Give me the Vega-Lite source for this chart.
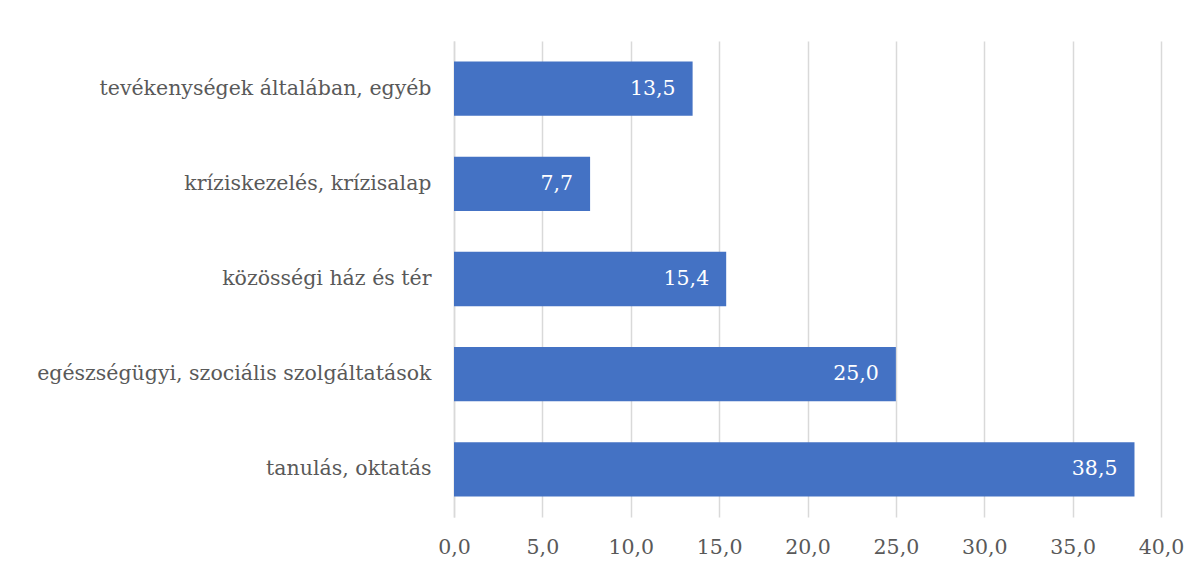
{
  "$schema": "https://vega.github.io/schema/vega-lite/v6.json",
  "width": 707,
  "height": 476,
  "autosize": {"type": "none"},
  "padding": {"left": 454, "top": 41, "right": 41, "bottom": 55},
  "background": "white",
  "config": {
    "view": {"stroke": null},
    "font": "DejaVu Serif",
    "locale": {"number": {"decimal": ",", "thousands": " ", "grouping": [3], "currency": ["", " Ft"]}}
  },
  "data": {
    "values": [
      {"category": "tevékenységek általában, egyéb", "value": 13.5},
      {"category": "kríziskezelés, krízisalap", "value": 7.7},
      {"category": "közösségi ház és tér", "value": 15.4},
      {"category": "egészségügyi, szociális szolgáltatások", "value": 25.0},
      {"category": "tanulás, oktatás", "value": 38.5}
    ]
  },
  "encoding": {
    "y": {
      "field": "category",
      "type": "nominal",
      "sort": null,
      "scale": {"paddingInner": 0.43, "paddingOuter": 0.215},
      "axis": {
        "title": null,
        "ticks": false,
        "domainColor": "#d9d9d9",
        "domainWidth": 1.5,
        "labelFont": "DejaVu Serif",
        "labelFontSize": 20.5,
        "labelColor": "#595959",
        "labelPadding": 23,
        "labelLimit": 460
      }
    },
    "x": {
      "field": "value",
      "type": "quantitative",
      "scale": {"domain": [0, 40], "nice": false},
      "axis": {
        "title": null,
        "values": [0, 5, 10, 15, 20, 25, 30, 35, 40],
        "format": ".1f",
        "domain": false,
        "ticks": false,
        "gridColor": "#d9d9d9",
        "gridWidth": 1.5,
        "labelFont": "DejaVu Serif",
        "labelFontSize": 20.5,
        "labelColor": "#595959",
        "labelPadding": 20,
        "labelFlush": false
      }
    }
  },
  "layer": [
    {"mark": {"type": "bar", "color": "#4472C4"}},
    {
      "mark": {"type": "text", "align": "right", "dx": -17, "color": "white", "fontSize": 20.5, "font": "DejaVu Serif", "baseline": "middle"},
      "encoding": {"text": {"field": "value", "type": "quantitative", "format": ".1f"}}
    }
  ]
}
